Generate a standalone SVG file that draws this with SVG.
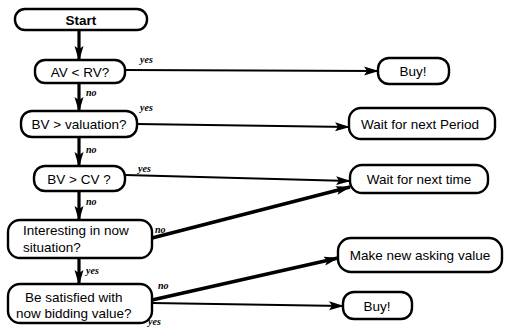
<svg xmlns="http://www.w3.org/2000/svg" width="505" height="327" viewBox="0 0 505 327">
<defs>
<marker id="ah" markerUnits="userSpaceOnUse" markerWidth="16" markerHeight="10" refX="14" refY="5" orient="auto">
<path d="M0,0.5 L15,5 L0,9.5 L3,5 Z" fill="#000"/>
</marker>
<style>
.box{fill:#fff;stroke:#000;stroke-width:2.4}
.t{font-family:"Liberation Sans",Arial,sans-serif;font-size:13.5px;fill:#000}
.c{text-anchor:middle}
.lbl{font-family:"Liberation Serif","Times New Roman",serif;font-style:italic;font-weight:bold;font-size:10px;fill:#000}
.e{fill:none;stroke:#000;marker-end:url(#ah)}
.v{stroke-width:3.2}
.h{stroke-width:2.2}
.d{stroke-width:3.4}
</style>
</defs>
<rect width="505" height="327" fill="#fff"/>
<g id="connectors">
<line class="e v" x1="79" y1="30" x2="79" y2="60"/>
<line class="e h" x1="125" y1="70" x2="378" y2="71"/>
<line class="e v" x1="79" y1="83" x2="79" y2="111"/>
<line class="e h" x1="137" y1="124" x2="349" y2="127"/>
<line class="e v" x1="79" y1="137" x2="79" y2="166"/>
<line class="e h" x1="125" y1="175" x2="350" y2="181"/>
<line class="e v" x1="79" y1="191" x2="79" y2="220"/>
<line class="e d" x1="152" y1="238" x2="350" y2="187"/>
<line class="e v" x1="79" y1="258" x2="79" y2="284"/>
<line class="e d" x1="152" y1="300" x2="338" y2="258"/>
<line class="e h" x1="152" y1="303" x2="343" y2="306"/>
<text class="lbl" x="140" y="63">yes</text>
<text class="lbl" x="86" y="96">no</text>
<text class="lbl" x="140" y="111">yes</text>
<text class="lbl" x="86" y="153">no</text>
<text class="lbl" x="138" y="172">yes</text>
<text class="lbl" x="86" y="205">no</text>
<text class="lbl" x="155" y="233">no</text>
<text class="lbl" x="86" y="274">yes</text>
<text class="lbl" x="158" y="289">no</text>
<text class="lbl" x="148" y="325">yes</text>
</g>
<g id="start"><rect class="box" x="15" y="9" width="132" height="21" rx="10"/><text class="t c" x="81" y="24.5" font-weight="bold" font-size="12.5px">Start</text></g>
<g id="av"><rect class="box" x="35" y="60" width="90" height="23" rx="10"/><text class="t c" x="80" y="76.5">AV &lt; RV?</text></g>
<g id="bvval"><rect class="box" x="21" y="111" width="116" height="26" rx="11"/><text class="t c" x="79" y="129">BV &gt; valuation?</text></g>
<g id="bvcv"><rect class="box" x="34" y="166" width="91" height="25" rx="11"/><text class="t c" x="79" y="183.5">BV &gt; CV ?</text></g>
<g id="interest"><rect class="box" x="8" y="220" width="144" height="38" rx="12"/><text class="t" x="23" y="235">Interesting in now</text><text class="t" x="23" y="252">situation?</text></g>
<g id="satisfied"><rect class="box" x="8" y="284" width="144" height="39" rx="12"/><text class="t" x="25" y="302">Be satisfied with</text><text class="t" x="16" y="318">now bidding value?</text></g>
<g id="buy1"><rect class="box" x="378" y="58" width="71" height="26" rx="11"/><text class="t c" x="413" y="75.5">Buy!</text></g>
<g id="waitperiod"><rect class="box" x="349" y="108" width="146" height="31" rx="12"/><text class="t c" x="420" y="128.5">Wait for next Period</text></g>
<g id="waittime"><rect class="box" x="350" y="165" width="138" height="28" rx="12"/><text class="t c" x="419" y="183.5">Wait for next time</text></g>
<g id="makenew"><rect class="box" x="338" y="238" width="164" height="34" rx="13"/><text class="t c" x="420" y="259.5">Make new asking value</text></g>
<g id="buy2"><rect class="box" x="343" y="292" width="69" height="27" rx="11"/><text class="t c" x="377" y="310.5">Buy!</text></g>
</svg>
